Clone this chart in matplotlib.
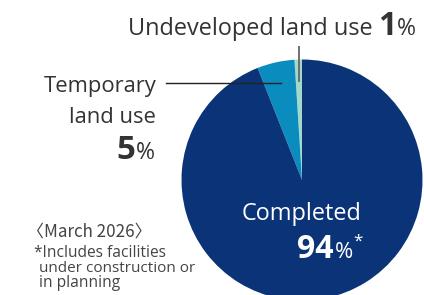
import matplotlib
matplotlib.use("Agg")
import matplotlib.pyplot as plt

# =====================================================
# DATA
# =====================================================
labels = ["Undeveloped land use", "Temporary land use", "Completed"]
shares = [1, 5, 94]
colors = ["#a3d9c8", "#0b8cbf", "#0b3478"]

W, H = 424, 295
plt.rcParams["font.family"] = ["Open Sans", "DejaVu Sans"]

fig = plt.figure(figsize=(W / 100, H / 100), dpi=100)
ax = fig.add_axes([0, 0, 1, 1])


def Y(y):
    # pixel row (top origin) -> data y
    return H - y


# =====================================================
# PIE
# =====================================================
ax.pie(
    shares,
    colors=colors,
    startangle=90,
    counterclock=True,
    center=(302, Y(180)),
    radius=120.5,
    wedgeprops=dict(linewidth=0),
    frame=True,
)
ax.set_xlim(0, W)
ax.set_ylim(0, H)
ax.set_aspect("equal")
ax.axis("off")

TXT = "#333333"
PX = 0.72  # px -> pt at dpi 100

# leader lines
ax.plot([299, 299], [Y(46), Y(82)], color="#666666", lw=1.3, solid_capstyle="butt")
ax.plot([166, 281], [Y(83), Y(83)], color="#222222", lw=1.0)

# Undeveloped land use 1%
ax.text(373, Y(35), "Undeveloped land use", ha="right", va="baseline",
        fontsize=23.5 * PX, color=TXT)
ax.text(396, Y(35), "1", ha="right", va="baseline", fontsize=32 * PX,
        fontweight="bold", color=TXT)
ax.text(397, Y(35), "%", ha="left", va="baseline", fontsize=23 * PX, color=TXT)

# Temporary land use 5%
ax.text(156, Y(92), "Temporary", ha="right", va="baseline",
        fontsize=22 * PX, color=TXT)
ax.text(156, Y(123), "land use", ha="right", va="baseline",
        fontsize=22 * PX, color=TXT)
ax.text(135, Y(159), "5", ha="right", va="baseline", fontsize=33 * PX,
        fontweight="bold", color=TXT)
ax.text(136, Y(159), "%", ha="left", va="baseline", fontsize=23 * PX, color=TXT)

# Completed 94%*
ax.text(302, Y(220), "Completed", ha="center", va="baseline",
        fontsize=23.5 * PX, color="white")
ax.text(334, Y(258), "94", ha="right", va="baseline", fontsize=32 * PX,
        fontweight="bold", color="white")
ax.text(335, Y(258), "%", ha="left", va="baseline", fontsize=22 * PX, color="white")
ax.text(353, Y(246), "*", ha="left", va="baseline", fontsize=17 * PX, color="white")

# note
NOTE = "#444444"
ax.text(27, Y(237), "\u3008March 2026\u3009", ha="left", va="baseline",
        fontsize=17 * PX, color=NOTE, family=["Noto Sans CJK JP", "Open Sans"])
ax.text(34, Y(257), "*Includes facilities", ha="left", va="baseline",
        fontsize=15.5 * PX, color=NOTE)
ax.text(39, Y(272), "under construction or", ha="left", va="baseline",
        fontsize=15.3 * PX, color=NOTE)
ax.text(39, Y(287), "in planning", ha="left", va="baseline",
        fontsize=15.5 * PX, color=NOTE)

fig.savefig("out.png", dpi=100)
